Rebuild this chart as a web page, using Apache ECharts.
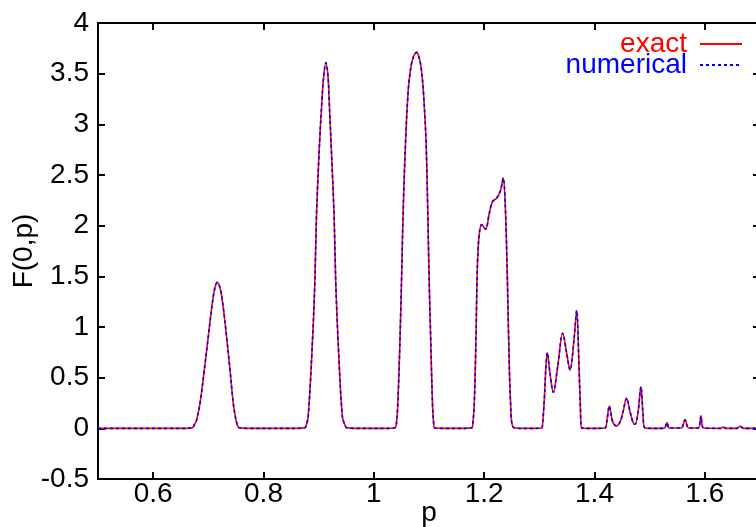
<!DOCTYPE html>
<html>
<head>
<meta charset="utf-8">
<script src="https://cdn.jsdelivr.net/npm/echarts@6/dist/echarts.min.js"></script>
<style>html,body{margin:0;padding:0;background:#fff}#c{width:756px;height:527px}</style>
</head>
<body>
<div id="c"></div>
<script>
// momentum values p
const pValues = [
  0.5, 0.66, 0.6717, 0.6729, 0.6787, 0.6849, 0.6927, 0.6999, 0.7072, 0.7120, 0.7162, 0.7210, 0.7260, 0.7331, 0.7393, 0.7452, 0.7501, 0.7536, 0.7561, 0.77,
  0.86, 0.875, 0.877, 0.881, 0.888, 0.893, 0.896, 0.901, 0.906, 0.909, 0.913, 0.917, 0.919, 0.923, 0.928, 0.931, 0.936, 0.943, 0.9485, 0.951, 0.965,
  1.025, 1.0371, 1.0402, 1.0432, 1.0474, 1.0505, 1.0534, 1.0577, 1.0624, 1.0673, 1.072, 1.0777, 1.0815, 1.0855, 1.0896, 1.0945, 1.0976, 1.1000, 1.1031, 1.1065, 1.1089, 1.1107, 1.125,
  1.165, 1.1774, 1.1792, 1.1821, 1.1852, 1.1875, 1.1906, 1.1955, 1.2026, 1.2092, 1.2153, 1.2225, 1.2298, 1.2345, 1.2381, 1.2417, 1.2443, 1.2479, 1.2527, 1.265,
  1.29, 1.3042, 1.306, 1.3090, 1.3120, 1.3144, 1.3193, 1.3253, 1.3333, 1.3424, 1.3496, 1.3556, 1.3628, 1.3677, 1.3719, 1.3745, 1.3768, 1.39,
  1.405, 1.4190, 1.4226, 1.4268, 1.4317, 1.4353, 1.4401, 1.4462, 1.4516, 1.4582, 1.4642, 1.4697, 1.4733, 1.4787, 1.4842, 1.4878, 1.4915, 1.505,
  1.522, 1.527, 1.5314, 1.5355, 1.557, 1.564, 1.571, 1.588, 1.593, 1.598, 1.628, 1.633, 1.638, 1.658, 1.664, 1.670, 1.7
];
// exact F(0,p)
const exactF = [
  0, 0, 0.005, 0.017, 0.083, 0.247, 0.576, 0.905, 1.235, 1.39, 1.44, 1.39, 1.235, 0.905, 0.576, 0.247, 0.083, 0.017, 0.005, 0,
  0, 0.005, 0.02, 0.115, 0.774, 1.43, 2.09, 2.75, 3.24, 3.47, 3.61, 3.47, 3.24, 2.75, 2.09, 1.43, 0.774, 0.115, 0.02, 0.005, 0,
  0, 0.003, 0.02, 0.214, 0.873, 1.53, 2.19, 2.85, 3.34, 3.57, 3.67, 3.71, 3.67, 3.57, 3.34, 2.85, 2.19, 1.53, 0.873, 0.214, 0.02, 0.003, 0,
  0, 0.005, 0.03, 0.247, 0.905, 1.56, 1.89, 2.01, 1.965, 2.12, 2.24, 2.27, 2.35, 2.47, 2.22, 1.56, 0.905, 0.247, 0.01, 0,
  0, 0.003, 0.05, 0.28, 0.61, 0.745, 0.544, 0.356, 0.61, 0.939, 0.741, 0.576, 0.873, 1.162, 0.61, 0.2, 0.003, 0,
  0, 0.003, 0.08, 0.22, 0.09, 0.04, 0.024, 0.06, 0.16, 0.297, 0.17, 0.06, 0.04, 0.15, 0.41, 0.15, 0.003, 0,
  0, 0.003, 0.056, 0.003, 0.003, 0.083, 0.003, 0.003, 0.122, 0.003, 0, 0.012, 0, 0, 0.02, 0, 0
];
// numerical F(0,p): coincides with the exact curve at this resolution
const numericalF = [
  0, 0, 0.005, 0.017, 0.083, 0.247, 0.576, 0.905, 1.235, 1.39, 1.44, 1.39, 1.235, 0.905, 0.576, 0.247, 0.083, 0.017, 0.005, 0,
  0, 0.005, 0.02, 0.115, 0.774, 1.43, 2.09, 2.75, 3.24, 3.47, 3.61, 3.47, 3.24, 2.75, 2.09, 1.43, 0.774, 0.115, 0.02, 0.005, 0,
  0, 0.003, 0.02, 0.214, 0.873, 1.53, 2.19, 2.85, 3.34, 3.57, 3.67, 3.71, 3.67, 3.57, 3.34, 2.85, 2.19, 1.53, 0.873, 0.214, 0.02, 0.003, 0,
  0, 0.005, 0.03, 0.247, 0.905, 1.56, 1.89, 2.01, 1.965, 2.12, 2.24, 2.27, 2.35, 2.47, 2.22, 1.56, 0.905, 0.247, 0.01, 0,
  0, 0.003, 0.05, 0.28, 0.61, 0.745, 0.544, 0.356, 0.61, 0.939, 0.741, 0.576, 0.873, 1.162, 0.61, 0.2, 0.003, 0,
  0, 0.003, 0.08, 0.22, 0.09, 0.04, 0.024, 0.06, 0.16, 0.297, 0.17, 0.06, 0.04, 0.15, 0.41, 0.15, 0.003, 0,
  0, 0.003, 0.056, 0.003, 0.003, 0.083, 0.003, 0.003, 0.122, 0.003, 0, 0.012, 0, 0, 0.02, 0, 0
];
const xTickValues = [0.6, 0.8, 1, 1.2, 1.4, 1.6];
const seriesNames = ['exact', 'numerical'];

const FONT = 'Liberation Sans';
const FS = 28;
const exactData = pValues.map((p, i) => [p, exactF[i]]);
const numData = pValues.map((p, i) => [p, numericalF[i]]);

const axisLine = { show: true, onZero: false, lineStyle: { color: '#000', width: 2 } };
const tick = { show: true, inside: true, length: 7, lineStyle: { color: '#000', width: 2 } };

const chart = echarts.init(document.getElementById('c'), null, { renderer: 'canvas' });
chart.setOption({
  animation: false,
  backgroundColor: '#fff',
  textStyle: { fontFamily: FONT },
  grid: { left: 98, right: -4, top: 23, bottom: 48, containLabel: false, outerBoundsMode: 'none' },
  legend: {
    orient: 'vertical', align: 'right', right: 13, top: 30, padding: 0,
    itemWidth: 42, itemHeight: 14, itemGap: -7,
    itemStyle: { opacity: 0 },
    textStyle: { fontSize: FS, fontFamily: FONT, lineHeight: 20, padding: [0, 8, 4, 0] },
    data: [
      { name: seriesNames[0], textStyle: { color: '#ff0000' } },
      { name: seriesNames[1], textStyle: { color: '#0000ff' } }
    ]
  },
  xAxis: [
    {
      type: 'value', min: 0.5, max: 1.7, position: 'bottom',
      axisLine, axisTick: Object.assign({ customValues: xTickValues }, tick),
      axisLabel: { customValues: xTickValues, fontSize: FS, color: '#000', fontFamily: FONT, margin: 1 },
      splitLine: { show: false },
      name: 'p', nameLocation: 'middle', nameGap: 20, nameMoveOverlap: false,
      nameTextStyle: { fontSize: FS, color: '#000', fontFamily: FONT }
    },
    {
      type: 'value', min: 0.5, max: 1.7, position: 'top',
      axisLine, axisTick: Object.assign({ customValues: xTickValues }, tick),
      axisLabel: { show: false }, splitLine: { show: false }
    }
  ],
  yAxis: [
    {
      type: 'value', min: -0.5, max: 4, interval: 0.5, position: 'left',
      axisLine, axisTick: tick,
      axisLabel: { fontSize: FS, color: '#000', fontFamily: FONT, margin: 9 },
      splitLine: { show: false },
      name: 'F(0,p)', nameLocation: 'middle', nameRotate: 90, nameGap: 60, nameMoveOverlap: false,
      nameTextStyle: { fontSize: FS, color: '#000', fontFamily: FONT }
    },
    {
      type: 'value', min: -0.5, max: 4, interval: 0.5, position: 'right',
      axisLine, axisTick: tick, axisLabel: { show: false }, splitLine: { show: false }
    }
  ],
  series: [
    {
      name: seriesNames[0], type: 'line', data: exactData, showSymbol: false, symbol: 'none',
      smooth: 0.35, lineStyle: { color: '#ff0000', width: 1.6 }, itemStyle: { color: '#ff0000' }, z: 2
    },
    {
      name: seriesNames[1], type: 'line', data: numData, showSymbol: false, symbol: 'none',
      smooth: 0.35, lineStyle: { color: '#0000ff', width: 1.6, type: [3, 3] }, itemStyle: { color: '#0000ff' }, z: 3
    }
  ]
});
</script>
</body>
</html>
